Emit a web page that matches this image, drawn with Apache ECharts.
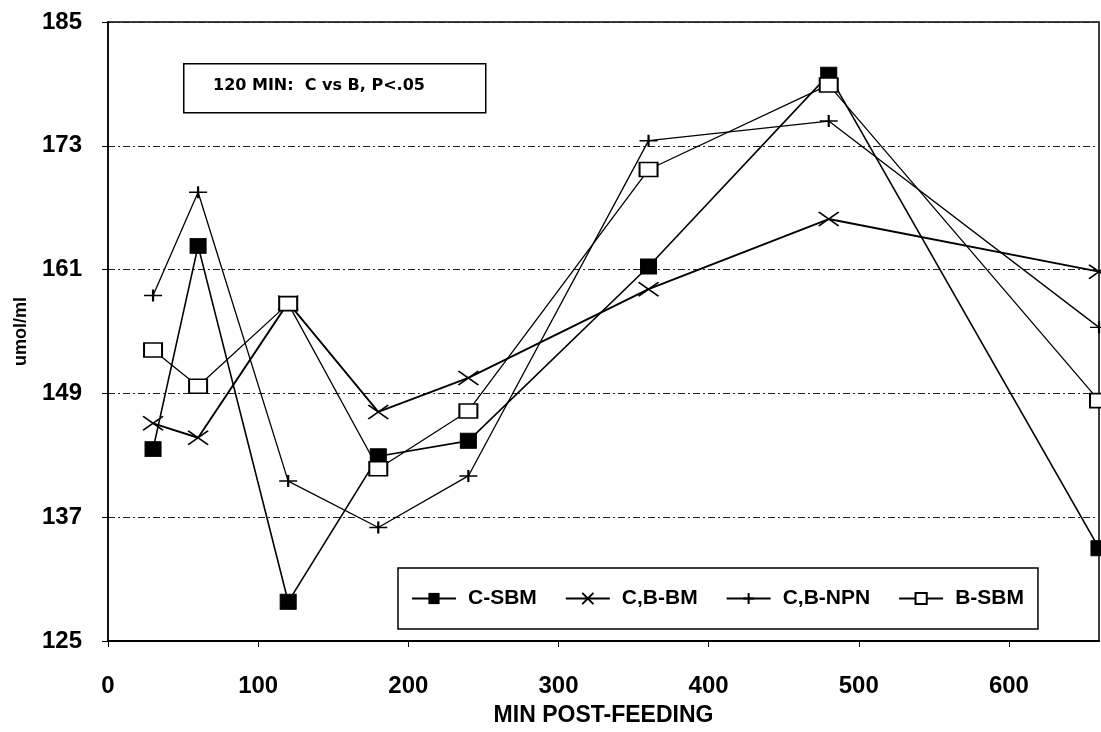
<!DOCTYPE html>
<html><head><meta charset="utf-8">
<script src="https://cdn.jsdelivr.net/npm/echarts@6/dist/echarts.min.js"></script>
<style>html,body{margin:0;padding:0;background:#fff}#c{width:1101px;height:732px}</style>
</head><body><div id="c"></div>
<script>
const minutes = [30, 60, 120, 180, 240, 360, 480, 660];
const cSBM  = [143.6, 163.3, 128.8, 142.9, 144.4, 161.3, 179.9, 134.0];
const cbBM  = [146.1, 144.7, 157.8, 147.2, 150.5, 159.1, 165.9, 160.8];
const cbNPN = [158.5, 168.5, 140.5, 136.0, 141.0, 173.5, 175.4, 155.4];
const bSBM  = [153.2, 149.7, 157.7, 141.7, 147.3, 170.7, 178.9, 148.3];
const seriesNames = ['C-SBM', 'C,B-BM', 'C,B-NPN', 'B-SBM'];
const yTicks = [125, 137, 149, 161, 173, 185];
const xTicks = [0, 100, 200, 300, 400, 500, 600];
const note = '120 MIN:  C vs B, P<.05';

const FONT = '"Liberation Sans", Arial, sans-serif';
const pair = v => minutes.map((m, i) => [m, v[i]]);
const X_SYM = 'path://M0,0L10,10M10,0L0,10';
const PLUS_SYM = 'path://M0,5L10,5M5,0L5,10';

const chart = echarts.init(document.getElementById('c'), null, {renderer: 'canvas'});
const base = {type: 'line', clip: false, animation: false, z: 3};
chart.setOption({
  backgroundColor: '#fff',
  animation: false,
  grid: {left: 108, right: 2, top: 22, bottom: 86, show: true, borderColor: '#000', borderWidth: 1.5, backgroundColor: 'transparent'},
  xAxis: {
    type: 'value', min: 0, max: 660, interval: 100,
    name: 'MIN POST-FEEDING', nameLocation: 'middle', nameGap: 63,
    nameTextStyle: {color: '#000', fontFamily: FONT, fontWeight: 'bold', fontSize: 23},
    axisLine: {show: true, lineStyle: {color: '#000', width: 2}},
    axisTick: {show: true, inside: false, length: 6, lineStyle: {color: '#000'}},
    axisLabel: {color: '#000', fontFamily: FONT, fontWeight: 'bold', fontSize: 24, margin: 33, showMaxLabel: false,
      formatter: v => xTicks.includes(v) ? String(v) : ''},
    splitLine: {show: false}
  },
  yAxis: {
    type: 'value', min: 125, max: 185, interval: 12,
    name: 'umol/ml', nameLocation: 'middle', nameGap: 78,
    nameTextStyle: {color: '#000', fontFamily: FONT, fontWeight: 'bold', fontSize: 18},
    axisLine: {show: true, lineStyle: {color: '#000', width: 1.5}},
    axisTick: {show: true, length: 6, lineStyle: {color: '#000'}},
    axisLabel: {color: '#000', fontFamily: FONT, fontWeight: 'bold', fontSize: 24, margin: 26,
      formatter: v => yTicks.includes(v) ? String(v) : ''},
    splitLine: {show: true, lineStyle: {color: '#222', width: 1.2, type: [7, 3, 2, 3]}}
  },
  legend: {
    data: seriesNames,
    left: 398, top: 568, width: 680,
    padding: [20, 14, 20, 13],
    itemGap: 28, itemWidth: 44, itemHeight: 14,
    borderColor: '#000', borderWidth: 1.5, backgroundColor: '#fff',
    textStyle: {color: '#000', fontFamily: FONT, fontWeight: 'bold', fontSize: 21, padding: [0, 0, 0, 7]},
    z: 10
  },
  graphic: [
    {type: 'rect', left: 183, top: 63, z: 10, shape: {width: 302, height: 49},
      style: {fill: '#fff', stroke: '#000', lineWidth: 1.5}},
    {type: 'text', left: 213, top: 78, z: 11,
      style: {text: note, fill: '#000', font: 'bold 16px "DejaVu Sans", "Liberation Sans", sans-serif'}}
  ],
  series: [
    Object.assign({}, base, {name: seriesNames[0], data: pair(cSBM), symbol: 'rect', symbolSize: [16, 15],
      itemStyle: {color: '#000', borderColor: '#000'}, lineStyle: {color: '#000', width: 1.6}}),
    Object.assign({}, base, {name: seriesNames[1], data: pair(cbBM), symbol: X_SYM, symbolSize: [20, 14],
      itemStyle: {color: '#000', borderColor: '#000', borderWidth: 1.6}, lineStyle: {color: '#000', width: 1.9}}),
    Object.assign({}, base, {name: seriesNames[2], data: pair(cbNPN), symbol: PLUS_SYM, symbolSize: [18, 12],
      itemStyle: {color: '#000', borderColor: '#000', borderWidth: 1.8}, lineStyle: {color: '#000', width: 1.3}}),
    Object.assign({}, base, {name: seriesNames[3], data: pair(bSBM), symbol: 'rect', symbolSize: [18, 14],
      itemStyle: {color: '#fff', borderColor: '#000', borderWidth: 1.8}, lineStyle: {color: '#000', width: 1.3}})
  ]
});
</script></body></html>
